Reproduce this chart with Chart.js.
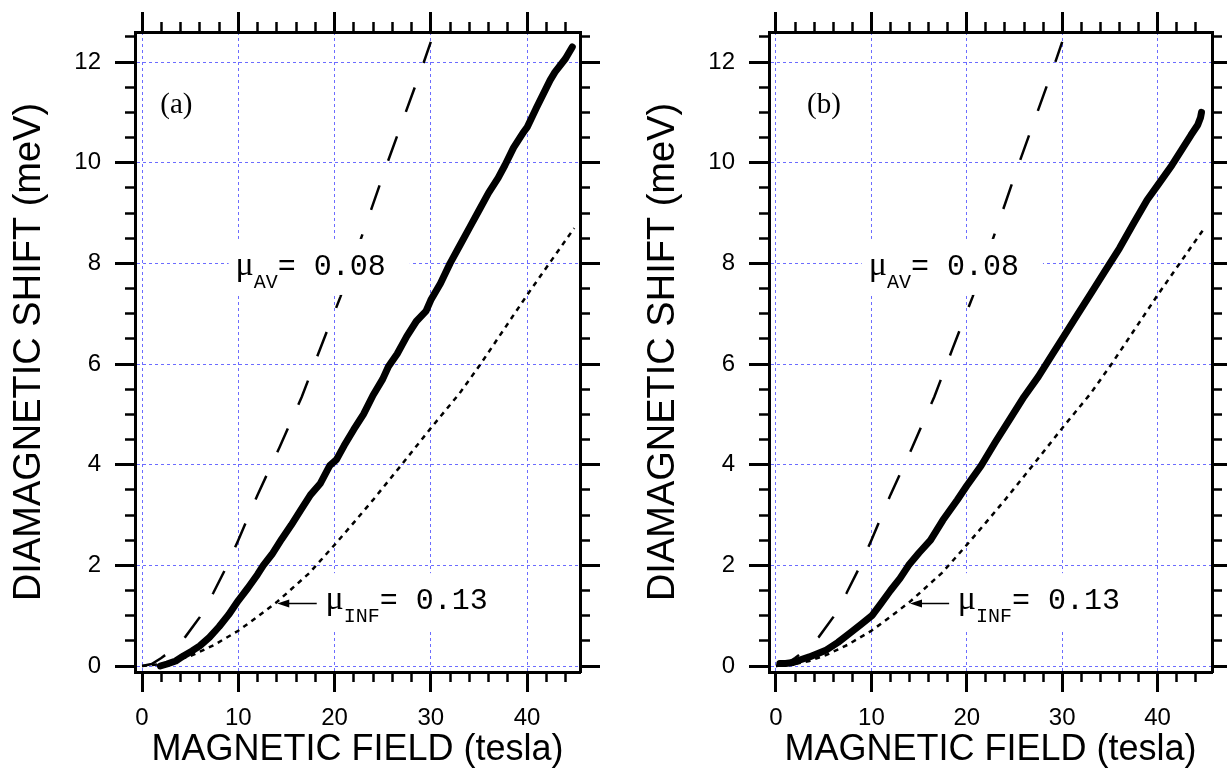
<!DOCTYPE html>
<html>
<head>
<meta charset="utf-8">
<title>Diamagnetic shift vs magnetic field</title>
<script src="https://cdn.jsdelivr.net/npm/chart.js@4.4.1/dist/chart.umd.min.js"></script>
<style>
  html, body { margin: 0; padding: 0; background: #fff; }
  body { width: 1227px; height: 772px; position: relative; overflow: hidden; }
  canvas { position: absolute; top: 0; }
  #chartA { left: 0; }
  #chartB { left: 634px; }
</style>
</head>
<body>
<canvas id="chartA" width="614" height="772"></canvas>
<canvas id="chartB" width="593" height="772"></canvas>
<script>
// measured data, panel (a)
const fieldA = [1.9, 2.6, 3.5, 4.3, 5.2, 6.0, 7.0, 8.0, 9.0, 10.0, 11.0, 12.0, 12.6, 13.5, 14.5, 15.5, 16.5, 17.5, 18.5, 19.5, 20.2, 21.0, 22.0, 23.0, 24.0, 25.0, 25.6, 26.5, 27.5, 28.5, 29.5, 30.0, 31.0, 32.0, 33.0, 34.0, 35.0, 36.0, 37.0, 37.7, 38.6, 39.6, 40.0, 41.0, 42.4, 42.9, 44.0, 44.7];
const shiftA = [0.0, 0.04, 0.1, 0.2, 0.3, 0.4, 0.57, 0.78, 1.02, 1.3, 1.55, 1.82, 2.0, 2.22, 2.52, 2.8, 3.1, 3.4, 3.62, 3.98, 4.1, 4.38, 4.7, 5.0, 5.38, 5.7, 5.95, 6.2, 6.55, 6.85, 7.05, 7.27, 7.6, 8.0, 8.35, 8.7, 9.05, 9.4, 9.7, 9.95, 10.3, 10.6, 10.7, 11.1, 11.64, 11.8, 12.07, 12.3];

// measured data, panel (b)
const fieldB = [0.4, 1.0, 1.8, 2.5, 3.5, 4.4, 5.3, 6.5, 7.8, 9.0, 10.1, 11.0, 12.0, 13.0, 13.9, 15.0, 16.2, 17.5, 19.0, 20.0, 21.5, 23.0, 24.5, 26.0, 27.5, 29.0, 30.0, 31.5, 33.0, 34.5, 36.0, 37.5, 38.9, 40.0, 41.5, 42.5, 43.5, 44.2, 44.5, 44.6];
const shiftB = [0.05, 0.05, 0.07, 0.12, 0.18, 0.25, 0.32, 0.47, 0.66, 0.84, 1.01, 1.24, 1.5, 1.74, 2.0, 2.25, 2.5, 2.9, 3.3, 3.58, 3.98, 4.45, 4.9, 5.35, 5.75, 6.2, 6.5, 6.95, 7.4, 7.85, 8.3, 8.8, 9.26, 9.55, 9.95, 10.25, 10.55, 10.75, 10.9, 11.0];

// model curves (same in both panels)
const fieldAv = [0, 1, 2, 3, 4.5, 6, 7.4, 8.8, 10, 12, 14.3, 16.6, 18.5, 20.6, 23.5, 25.4, 27.2, 29.1, 30];
const shiftAv = [0, 0.04, 0.16, 0.3, 0.58, 0.97, 1.45, 1.98, 2.5, 3.4, 4.35, 5.35, 6.3, 7.33, 8.9, 9.95, 10.9, 11.9, 12.4];
const fieldInf = [0, 2, 3.5, 5.3, 7.5, 10, 12, 14, 17.4, 20.2, 22, 24, 26.8, 30.1, 33, 35.1, 37.5, 40, 42.5, 44.9];
const shiftInf = [0, 0.04, 0.1, 0.22, 0.42, 0.7, 0.98, 1.27, 1.85, 2.45, 2.85, 3.3, 3.96, 4.75, 5.42, 5.98, 6.66, 7.37, 8.05, 8.7];

// tick positions
const xTicksMajor = [0, 10, 20, 30, 40];
const xTicksMinor = [0, 2, 4, 6, 8, 10, 12, 14, 16, 18, 20, 22, 24, 26, 28, 30, 32, 34, 36, 38, 40, 42, 44];
const yTicksMajor = [0, 2, 4, 6, 8, 10, 12];
const yTicksMinor = [0, 0.5, 1, 1.5, 2, 2.5, 3, 3.5, 4, 4.5, 5, 5.5, 6, 6.5, 7, 7.5, 8, 8.5, 9, 9.5, 10, 10.5, 11, 11.5, 12, 12.5];
const yMin = -0.119, yMax = 12.597;

const SANS = '"Liberation Sans", Arial, Helvetica, sans-serif';
const SERIF = '"Liberation Serif", "Times New Roman", serif';
const MONO = '"Liberation Mono", "Courier New", monospace';
const BLUE = '#6c6cff';

const toPts = (xs, ys) => xs.map((x, i) => ({ x, y: ys[i] }));
const useTicks = (vals) => (scale) => { scale.ticks = vals.map((v) => ({ value: v })); };
const fixSize = (prop, v) => (s) => { s[prop] = v; };

function muLabel(ctx, px, py, sub, rest) {
  ctx.font = '34px ' + SERIF;
  const wMu = ctx.measureText('μ').width;
  ctx.font = '20px ' + MONO;
  const wSub = ctx.measureText(sub).width;
  ctx.font = '30px ' + MONO;
  const wRest = ctx.measureText(rest).width;

  ctx.fillStyle = '#fff';
  ctx.fillRect(px - 7, py - 36, wMu + wSub + wRest + 31, 56);

  ctx.fillStyle = '#000';
  ctx.textAlign = 'left';
  ctx.textBaseline = 'alphabetic';
  ctx.font = '34px ' + SERIF;
  ctx.fillText('μ', px, py);
  ctx.font = '20px ' + MONO;
  ctx.fillText(sub, px + wMu, py + 13);
  ctx.font = '30px ' + MONO;
  ctx.fillText(rest, px + wMu + wSub, py);
}

const annotate = {
  id: 'annotate',
  afterDatasetsDraw(chart, args, opts) {
    const { ctx } = chart;
    const x = chart.scales.x, y = chart.scales.y;
    ctx.save();
    muLabel(ctx, x.getPixelForValue(9.72), y.getPixelForValue(7.77), 'AV', '= 0.08');
    muLabel(ctx, x.getPixelForValue(19.05), y.getPixelForValue(1.13), 'INF', '= 0.13');

    // arrow to the dotted curve
    const ay = Math.round(y.getPixelForValue(1.25)) + 0.5;
    const a0 = x.getPixelForValue(18.15), a1 = x.getPixelForValue(14.05);
    ctx.strokeStyle = '#000';
    ctx.lineWidth = 1.5;
    ctx.beginPath(); ctx.moveTo(a0, ay); ctx.lineTo(a1 + 8, ay); ctx.stroke();
    ctx.fillStyle = '#000';
    ctx.beginPath();
    ctx.moveTo(a1, ay); ctx.lineTo(a1 + 12, ay - 4); ctx.lineTo(a1 + 12, ay + 4);
    ctx.closePath(); ctx.fill();

    ctx.font = '29px ' + SERIF;
    ctx.textAlign = 'left';
    ctx.textBaseline = 'alphabetic';
    ctx.fillText(opts.tag, x.getPixelForValue(opts.tagX), y.getPixelForValue(10.99));
    ctx.restore();
  }
};

function makeChart(id, field, shift, xMax, rightW, tag, tagX) {
  const xMin = -0.73;
  const minorGrid = { drawOnChartArea: false, tickLength: 10, tickWidth: 2.5, tickColor: '#000' };
  const majorEdge = { drawOnChartArea: false, tickLength: 20, tickWidth: 3, tickColor: '#000' };
  const frame = { display: true, width: 3, color: '#000' };
  const xs = { type: 'linear', axis: 'x', min: xMin, max: xMax, bounds: 'data' };
  const ys = { type: 'linear', axis: 'y', min: yMin, max: yMax, bounds: 'data' };

  return new Chart(document.getElementById(id), {
    type: 'scatter',
    data: {
      datasets: [
        { data: toPts(fieldAv, shiftAv), showLine: true, borderColor: '#000', borderWidth: 2.5,
          borderDash: [26, 26], pointRadius: 0, fill: false },
        { data: toPts(fieldInf, shiftInf), showLine: true, borderColor: '#000', borderWidth: 2.5,
          borderDash: [5, 5], pointRadius: 0, fill: false },
        { data: toPts(field, shift), showLine: true, borderColor: '#000', borderWidth: 7,
          borderJoinStyle: 'round', borderCapStyle: 'round', pointRadius: 0, fill: false }
      ]
    },
    options: {
      responsive: false,
      animation: false,
      devicePixelRatio: 1,
      layout: { padding: 0 },
      plugins: { legend: { display: false }, tooltip: { enabled: false }, annotate: { tag, tagX } },
      scales: {
        x: {
          ...xs, position: 'bottom', weight: 1,
          afterBuildTicks: useTicks(xTicksMajor),
          ticks: { autoSkip: false, maxRotation: 0, padding: 12, color: '#000', font: { family: SANS, size: 24 } },
          grid: { color: BLUE, lineWidth: 1, tickLength: 20, tickWidth: 3, tickColor: '#000' },
          border: { ...frame, dash: [3, 3] },
          title: { display: true, text: 'MAGNETIC FIELD (tesla)', color: '#000',
                   font: { family: SANS, size: 36 }, padding: { top: 0, bottom: 0 } },
          afterFit: fixSize('height', 100)
        },
        xm: {
          ...xs, position: 'bottom', weight: 0, afterBuildTicks: useTicks(xTicksMinor),
          ticks: { display: false }, grid: minorGrid, border: { display: false },
          afterFit: fixSize('height', 0)
        },
        xt: {
          ...xs, position: 'top', weight: 1, afterBuildTicks: useTicks(xTicksMajor),
          ticks: { display: false }, grid: majorEdge, border: frame,
          afterFit: fixSize('height', 32)
        },
        xtm: {
          ...xs, position: 'top', weight: 0, afterBuildTicks: useTicks(xTicksMinor),
          ticks: { display: false }, grid: minorGrid, border: { display: false },
          afterFit: fixSize('height', 0)
        },
        y: {
          ...ys, position: 'left', weight: 1,
          afterBuildTicks: useTicks(yTicksMajor),
          ticks: { autoSkip: false, padding: 14, color: '#000', font: { family: SANS, size: 24 } },
          grid: { color: BLUE, lineWidth: 1, tickLength: 20, tickWidth: 3, tickColor: '#000' },
          border: { ...frame, dash: [3, 3] },
          title: { display: true, text: 'DIAMAGNETIC SHIFT (meV)', color: '#000',
                   font: { family: SANS, size: 38 }, padding: { top: 7, bottom: 0 } },
          afterFit: fixSize('width', 135)
        },
        ym: {
          ...ys, position: 'left', weight: 0, afterBuildTicks: useTicks(yTicksMinor),
          ticks: { display: false }, grid: minorGrid, border: { display: false },
          afterFit: fixSize('width', 0)
        },
        yr: {
          ...ys, position: 'right', weight: 1, afterBuildTicks: useTicks(yTicksMajor),
          ticks: { display: false }, grid: majorEdge, border: frame,
          afterFit: fixSize('width', rightW)
        },
        yrm: {
          ...ys, position: 'right', weight: 0, afterBuildTicks: useTicks(yTicksMinor),
          ticks: { display: false }, grid: minorGrid, border: { display: false },
          afterFit: fixSize('width', 0)
        }
      }
    },
    plugins: [annotate]
  });
}

makeChart('chartA', fieldA, shiftA, 45.5, 34, '(a)', 1.9);
makeChart('chartB', fieldB, shiftB, 45.7, 15, '(b)', 3.25);
</script>
</body>
</html>
